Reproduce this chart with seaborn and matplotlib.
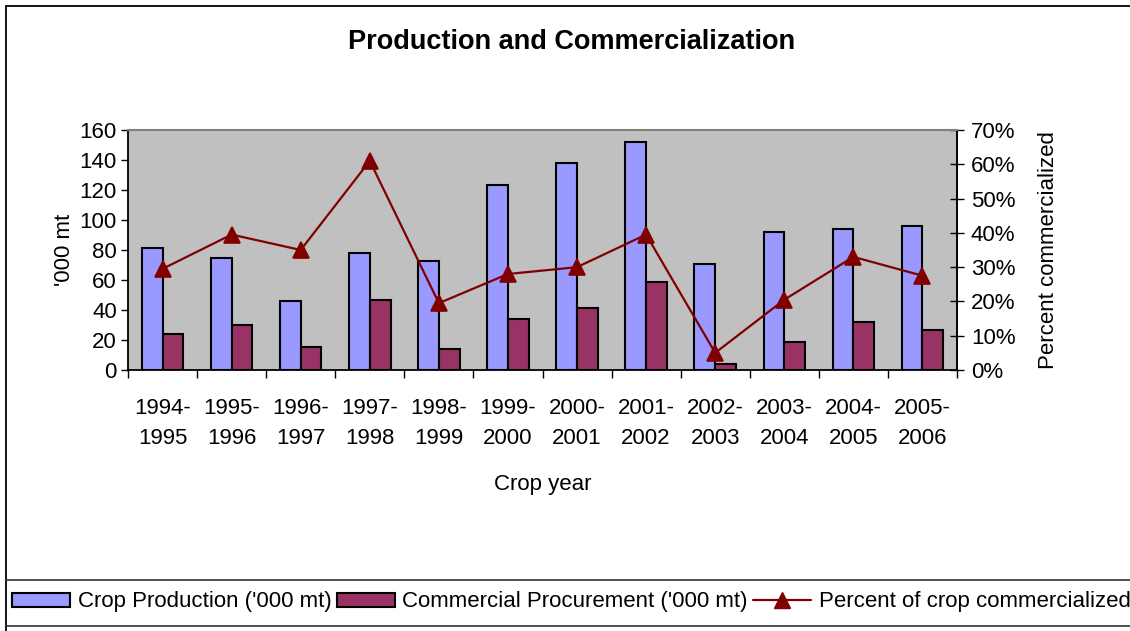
import matplotlib
matplotlib.use('Agg')
import matplotlib.pyplot as plt
import numpy as np
import pandas as pd
import seaborn as sns
from matplotlib.lines import Line2D
from matplotlib.patches import Patch
from matplotlib.ticker import PercentFormatter, MultipleLocator

# Values
crop_years = ['1994-\n1995', '1995-\n1996', '1996-\n1997', '1997-\n1998', '1998-\n1999', '1999-\n2000',
              '2000-\n2001', '2001-\n2002', '2002-\n2003', '2003-\n2004', '2004-\n2005', '2005-\n2006']
production = [81, 75, 46, 78, 73, 123, 138, 152, 71, 92, 94, 96]
procurement = [24, 30, 15.5, 47, 14, 34, 41.5, 59, 4, 19, 32, 27]
pct_commercialized = [0.295, 0.395, 0.35, 0.61, 0.195, 0.28, 0.30, 0.395, 0.05, 0.205, 0.33, 0.275]

series_names = ["Crop Production ('000 mt)", "Commercial Procurement ('000 mt)"]
line_name = 'Percent of crop commercialized'

blue = '#9999FF'
plum = '#993366'
maroon = '#800000'

sns.set_theme(style='white')
plt.rcParams['font.family'] = ['Liberation Sans', 'DejaVu Sans']
plt.rcParams['text.color'] = 'black'
plt.rcParams['axes.labelcolor'] = 'black'
plt.rcParams['xtick.color'] = 'black'
plt.rcParams['ytick.color'] = 'black'

df = pd.DataFrame({
    'year': crop_years * 2,
    'series': [series_names[0]] * len(crop_years) + [series_names[1]] * len(crop_years),
    'value': production + procurement,
})

fig = plt.figure(figsize=(11.3, 6.31), dpi=100)
ax = fig.add_axes([128 / 1130, 1 - 370 / 631, 829 / 1130, 240 / 631])
ax.set_facecolor('#C0C0C0')

sns.barplot(data=df, x='year', y='value', hue='series', hue_order=series_names,
            palette=[blue, plum], saturation=1, width=0.6, edgecolor='black', linewidth=1.5,
            order=crop_years, ax=ax, legend=False)

ax2 = ax.twinx()
sns.pointplot(x=crop_years, y=pct_commercialized, order=crop_years, color=maroon,
              markers='^', markersize=11, linewidth=1.6, ax=ax2)

ax.set_xlim(-0.5, len(crop_years) - 0.5)
ax2.set_xlim(-0.5, len(crop_years) - 0.5)
ax.set_ylim(0, 160)
ax.yaxis.set_major_locator(MultipleLocator(20))
ax2.set_ylim(0, 0.70)
ax2.yaxis.set_major_locator(MultipleLocator(0.10))
ax2.yaxis.set_major_formatter(PercentFormatter(1.0, decimals=0))

fs = 16
ax.tick_params(axis='y', which='major', direction='out', length=5, width=1, color='black',
               labelsize=fs, pad=3, left=True)
ax.set_xticks(range(len(crop_years)))
ax.set_xticklabels(crop_years)
ax.set_xticks(np.arange(-0.5, len(crop_years), 1.0), minor=True)
ax.tick_params(axis='x', which='major', length=0, labelsize=fs, pad=20)
ax.tick_params(axis='x', which='minor', direction='out', length=6, width=1, color='black', bottom=True)
for lbl in ax.get_xticklabels():
    lbl.set_linespacing(1.55)
ax2.tick_params(axis='y', direction='inout', length=10, width=1, color='black', labelsize=fs, pad=5, right=True)

for name in ['left', 'bottom']:
    ax.spines[name].set_color('black')
    ax.spines[name].set_linewidth(1.3)
ax2.spines['right'].set_color('black')
ax2.spines['right'].set_linewidth(1.3)
ax2.spines['top'].set_color('#808080')
ax2.spines['top'].set_linewidth(1.5)
ax.spines['top'].set_color('#808080')
ax2.spines['left'].set_visible(False)
ax2.spines['bottom'].set_visible(False)

ax.set_xlabel('Crop year', fontsize=fs)
ax.xaxis.set_label_coords(0.5, -0.435)
ax.set_ylabel("'000 mt", fontsize=fs)
ax.yaxis.set_label_coords(-0.064, 0.5)
ax2.set_ylabel('Percent commercialized', fontsize=fs)
ax2.yaxis.set_label_coords(1.098, 0.5)

fig.text(572 / 1130, 1 - 42 / 631, 'Production and Commercialization', ha='center', va='center',
         fontsize=19.5, fontweight='bold')

# outer chart border and legend box
fig.add_artist(plt.Line2D([6 / 1130, 6 / 1130], [0, 1 - 6 / 631], transform=fig.transFigure, color='black', lw=1.3))
fig.add_artist(plt.Line2D([6 / 1130, 1], [1 - 6 / 631, 1 - 6 / 631], transform=fig.transFigure, color='black', lw=1.3))
fig.add_artist(plt.Line2D([6 / 1130, 1], [1 - 580 / 631, 1 - 580 / 631], transform=fig.transFigure, color='#333333', lw=1.2))
fig.add_artist(plt.Line2D([6 / 1130, 1], [1 - 626 / 631, 1 - 626 / 631], transform=fig.transFigure, color='#333333', lw=1.2))

handles = [Patch(facecolor=blue, edgecolor='black', linewidth=1.5),
           Patch(facecolor=plum, edgecolor='black', linewidth=1.5),
           Line2D([], [], color=maroon, marker='^', markersize=11, linewidth=1.6)]
fig.legend(handles, series_names + [line_name], loc='center left',
           bbox_to_anchor=(12 / 1130, 1 - 602 / 631), ncol=3, frameon=False, fontsize=fs,
           handlelength=2.6, handleheight=0.6, handletextpad=0.35, columnspacing=0.25, borderaxespad=0,
           borderpad=0)

fig.savefig('out.png', dpi=100)
